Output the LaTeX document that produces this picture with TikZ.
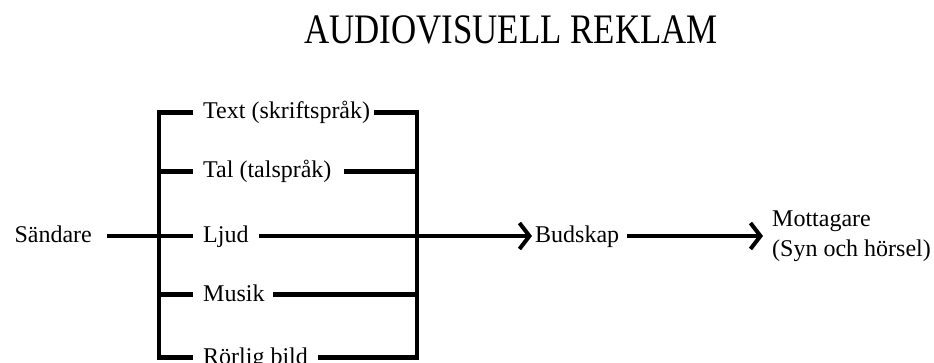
\documentclass[tikz,border=0pt]{standalone}
\usepackage{fontspec}
\setmainfont{Liberation Serif}
\usetikzlibrary{arrows.meta}
\begin{document}
\begin{tikzpicture}[x=1pt,y=-1pt,
  lbl/.style={inner sep=0pt, text height=17pt, text depth=4pt,
    font=\fontsize{24}{30}\selectfont},
  wire/.style={line width=4.5pt, miter limit=10},
  tip/.style={-{Straight Barb[length=10pt,width=26pt,line width=4pt]}}]
  \clip (0,0) rectangle (934,363);

  % title
  \node[anchor=base, inner sep=0pt, xscale=0.83, transform shape,
    font=\fontsize{42}{50}\selectfont] (title) at (511,43.3) {AUDIOVISUELL REKLAM};

  % sender and the five channels
  \node[lbl, anchor=east] (snd) at (92,236) {Sändare};
  \node[lbl, anchor=west] (tA) at (203,112.5) {Text (skriftspråk)};
  \node[lbl, anchor=west] (tB) at (203,171.5) {Tal (talspråk)};
  \node[lbl, anchor=west] (tC) at (203,236) {Ljud};
  \node[lbl, anchor=west] (tD) at (203,294.7) {Musik};
  \node[lbl, anchor=west] (tE) at (203,357.5) {Rörlig bild};

  % message and receiver
  \node[lbl, anchor=west] (bud) at (535,236) {Budskap};
  \node[inner sep=0pt, anchor=west, align=left,
    font=\fontsize{24}{30}\selectfont] (mot) at (772,236) {Mottagare\\(Syn och hörsel)};

  % junction points on the two brackets
  \coordinate (lA) at (159,112.5);
  \coordinate (lB) at (159,171.5);
  \coordinate (lD) at (159,294.7);
  \coordinate (lE) at (159,357.5);
  \coordinate (rA) at (417,112.5);
  \coordinate (rB) at (417,171.5);
  \coordinate (rD) at (417,294.7);
  \coordinate (rE) at (417,357.5);

  % left bracket
  \draw[wire] ([xshift=-10pt]tA.west) -- (lA) -- (lE) -- ([xshift=-10pt]tE.west);
  \draw[wire] (lB) -- ([xshift=-10pt]tB.west);
  \draw[wire] (lD) -- ([xshift=-10pt]tD.west);
  \draw[wire] ([xshift=15pt]snd.east) -- ([xshift=-10pt]tC.west);

  % right bracket
  \draw[wire] ([xshift=4pt]tA.east) -- (rA) -- (rE) -- ([xshift=10pt]tE.east);
  \draw[wire] ([xshift=12pt]tB.east) -- (rB);
  \draw[wire] ([xshift=8pt]tD.east) -- (rD);

  % arrows towards the receiver
  \draw[wire, tip] ([xshift=10pt]tC.east) -- ([xshift=-3pt]bud.west);
  \draw[wire, tip] ([xshift=8pt]bud.east) -- ([xshift=-9pt]mot.west);
\end{tikzpicture}
\end{document}
